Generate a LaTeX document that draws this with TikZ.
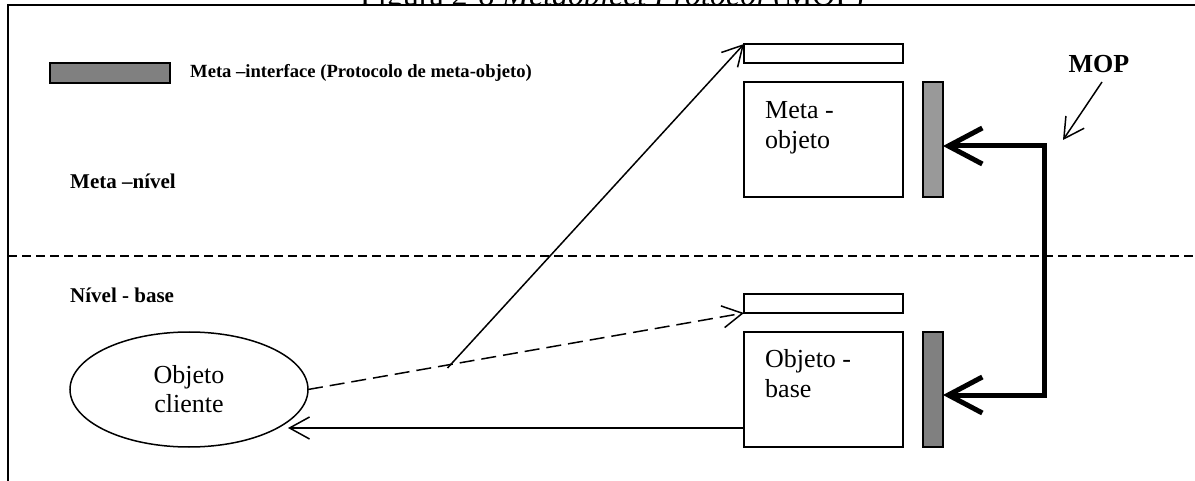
\documentclass[tikz,border=0pt]{standalone}
\usepackage{fontspec}
\setmainfont{Liberation Serif}
\usetikzlibrary{arrows.meta,shapes.geometric}
\begin{document}
\begin{tikzpicture}[x=1pt,y=-1pt,
  box/.style={draw, line width=1.5pt, fill=white, inner sep=0pt, outer sep=0pt, anchor=north west},
  slotbox/.style={box, minimum width=159pt, minimum height=19pt},
  objbox/.style={box, minimum width=159pt, minimum height=115pt},
  ifbar/.style={box, minimum width=20pt, minimum height=115pt},
  objtext/.style={inner sep=0pt, anchor=north west, align=left, font=\fontsize{26}{30}\selectfont},
  lbl/.style={inner sep=0pt, font=\fontsize{21}{25}\selectfont\bfseries},
  conn/.style={line width=1.5pt, -{Straight Barb[length=20pt,width=22pt,line width=1.5pt]}},
  mopconn/.style={line width=5pt, {Straight Barb[length=34pt,width=36pt,line width=5pt]}-{Straight Barb[length=34pt,width=36pt,line width=5pt]}},
  levelsep/.style={line width=1.5pt, dash pattern=on 9pt off 5pt},
  calldash/.style={conn, dash pattern=on 15pt off 7pt}
]
\useasboundingbox (0,0) rectangle (1195,481);
\fill[white] (0,0) rectangle (1195,481);

% caption, cut by the frame
\begin{scope}
  \clip (0,0) rectangle (1195,5);
  \node[anchor=base, inner sep=0pt, font=\fontsize{32}{38}\selectfont] (title) at (612,5.5)
    {Figura 2-8 \textit{Metaobject Protocol} (MOP)};
\end{scope}

% frame
\draw[line width=2pt] (8,481) -- (8,5.5) -- (1195,5.5);

% legend
\node[box, fill=gray, minimum width=120pt, minimum height=20pt] (leg) at (50,63) {};
\node[lbl, anchor=west, font=\fontsize{18.6}{22}\selectfont\bfseries] (legtext) at ([xshift=20pt]leg.east)
  {Meta –interface (Protocolo de meta-objeto)};

% level separator and level labels
\draw[levelsep] (8,256) -- (1195,256);
\node[lbl, anchor=base west] (metalvl) at (70,189) {Meta –nível};
\node[lbl, anchor=base west] (baselvl) at (70,303) {Nível - base};

% meta level
\node[slotbox] (mslot) at (744,44) {};
\node[objbox] (mobj) at (744,82) {};
\node[objtext] (mobjtext) at (765,101) {Meta -\\objeto};
\node[ifbar, fill=gray!80] (mbar) at (923,82) {};

% base level
\node[slotbox] (bslot) at (744,294) {};
\node[objbox] (bobj) at (744,332) {};
\node[objtext] (bobjtext) at (765,349) {Objeto -\\base};
\node[ifbar, fill=gray] (bbar) at (923,332) {};

% client
\node[ellipse, draw, line width=1.5pt, outer sep=0pt, inner sep=0pt,
      minimum width=238pt, minimum height=115pt, align=center,
      font=\fontsize{26}{29}\selectfont] (cli) at (189,389.5) {Objeto\\cliente};

% call, its reification and the reply
\draw[calldash] (cli.east) -- coordinate[pos=0.32] (tap) (bslot.south west);
\draw[conn] ([yshift=-3pt]tap) -- (mslot.north west);
\coordinate (ret) at (288,428);
\draw[conn] (ret -| bobj.west) -- (ret);

% meta-object protocol link
\coordinate (mopx) at (1044,0);
\draw[mopconn] ([yshift=-6.5pt]mbar.east) -- ([yshift=-6.5pt]mbar.east -| mopx)
  -- ([yshift=-5.5pt]bbar.east -| mopx) -- ([yshift=-5.5pt]bbar.east);

\node[inner sep=0pt, font=\fontsize{26}{30}\selectfont\bfseries] (mop) at (1099,64) {MOP};
\coordinate (mopptr) at (1063,140);
\draw[conn] (1102,82) -- (mopptr);
\end{tikzpicture}
\end{document}
